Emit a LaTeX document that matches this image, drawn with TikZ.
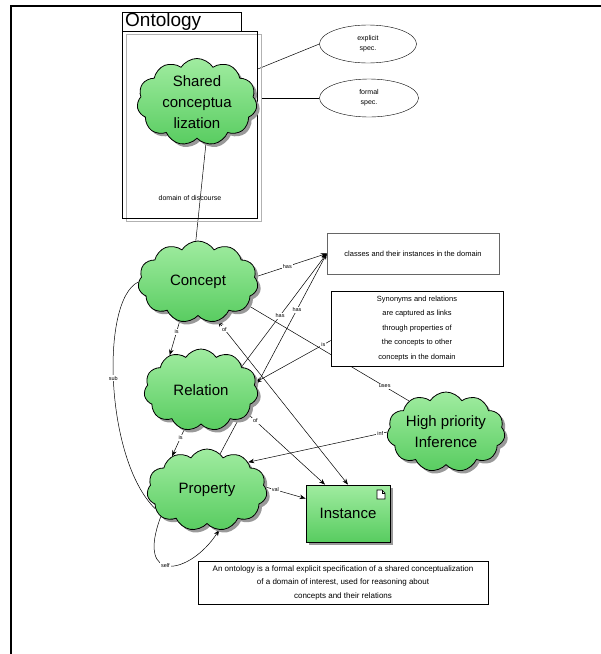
\documentclass[tikz,border=0pt]{standalone}
\usepackage{fontspec}
\setmainfont{Liberation Sans}
\usetikzlibrary{shapes.symbols,shapes.geometric,shadows,arrows.meta,calc}
\pgfdeclarelayer{background}
\pgfdeclarelayer{bottom}
\pgfsetlayers{bottom,background,main}
\definecolor{gtop}{RGB}{160,236,160}
\definecolor{gbot}{RGB}{88,204,96}
\tikzset{
  shd/.style={general shadow={shadow xshift=3pt, shadow yshift=-3pt, fill=black!40}},
  cl/.style={cloud, cloud puffs=11, cloud puff arc=115, cloud ignores aspect, draw=black, thick,
    top color=gtop, bottom color=gbot, inner sep=0pt, align=center,
    font=\fontsize{15}{21}\selectfont, shd},
  txtbox/.style={draw=black, fill=white, align=center, inner sep=0pt, font=\fontsize{7.5}{14.5}\selectfont},
  ell/.style={ellipse, draw=black, fill=white, align=center, inner sep=0pt, font=\fontsize{7}{10}\selectfont},
  conn/.style={draw=black, line width=0.5pt},
  arr/.style={conn, -{Stealth[length=6pt,width=4.5pt]}},
  lab/.style={font=\fontsize{5.5}{6}\selectfont, inner sep=1pt, fill=white}
}
\begin{document}
\begin{tikzpicture}[x=1pt,y=-1pt]
\useasboundingbox (0,0) rectangle (601,654);
\begin{pgfonlayer}{bottom}
\fill[white] (0,0) rectangle (601,654);
\end{pgfonlayer}
% outer frame
\draw[line width=1.2pt] (11,654) -- (11,6) -- (601,6);
% Ontology package
\draw[black!30, line width=1pt] (126,34) rectangle (261,221);
\node[draw=black, thick, fill=white, minimum width=119pt, minimum height=19pt, inner sep=0pt,
  anchor=north west] (tab) at (122,12) {};
\node[anchor=west, inner sep=0pt, font=\fontsize{19}{19}\selectfont] (ontl) at (125,22) {Ontology};
\node[draw=black, thick, minimum width=135pt, minimum height=187pt, inner sep=0pt,
  anchor=north west] (ont) at (122,31) {};
\node[font=\fontsize{7}{8}\selectfont] (dod) at (190,198) {domain of discourse};
\node[cl, minimum width=120pt, minimum height=86pt] (shared) at (197,102) {Shared\\conceptua\\lization};
% ellipses
\node[ell, minimum width=97pt, minimum height=38pt] (e1) at (368,44) {explicit\\spec.};
\node[ell, minimum width=99pt, minimum height=38pt] (e2) at (369,98) {formal\\spec.};
% clouds
\node[cl, minimum width=120pt, minimum height=82pt] (concept) at (198,282) {Concept};
\node[cl, minimum width=114pt, minimum height=82pt] (relation) at (201,390) {Relation};
\node[cl, minimum width=120pt, minimum height=82pt] (property) at (207,490) {Property};
\node[cl, minimum width=118pt, minimum height=80pt] (hpi) at (446,432) {High priority\\Inference};
% instance
\node[draw=black, thick, top color=gtop, bottom color=gbot, minimum width=84pt, minimum height=57pt,
  inner sep=0pt, font=\fontsize{15}{16}\selectfont, shd] (instance) at (348,513.5) {Instance};
\draw[black, fill=white, line width=0.6pt] (377,490) -- (382,490) -- (385,493) -- (385,499) -- (377,499) -- cycle;
\draw[black, line width=0.6pt] (382,490) -- (382,493) -- (385,493);
% text boxes
\node[txtbox, draw=black!60, minimum width=172pt, minimum height=41pt] (box1) at (413,253.5) {classes and their instances in the domain};
\node[txtbox, minimum width=172pt, minimum height=75pt] (box2) at (417,328.5)
  {Synonyms and relations\\are captured as links\\through properties of\\the concepts to other\\concepts in the domain};
\node[txtbox, minimum width=290pt, minimum height=43pt, font=\fontsize{8}{13.5}\selectfont] (box3) at (343,582.5)
  {An ontology is a formal explicit specification of a shared conceptualization\\of a domain of interest, used for reasoning about\\concepts and their relations};
% connectors
\begin{pgfonlayer}{background}
\draw[conn] (ont.east |- 0,69) -- (e1.west);
\draw[conn] (261,98) -- (e2.west);
\draw[conn] (shared.-78) -- (concept.93);
\draw[arr] (concept.5) -- (box1.west) node[lab, pos=0.45] {has};
\draw[arr] (relation.30) -- (box1.west) node[lab, pos=0.45] {has};
\draw[arr] (property.70) -- (box1.west) node[lab, pos=0.72] {has};
\draw[arr] ([yshift=-12pt]box2.west) -- (relation.8) node[lab, pos=0.1] {is};
\draw[conn] (concept.-25) -- (hpi.140) node[lab, pos=0.85] {uses};
\draw[arr] (hpi.180) -- (property.34) node[lab, pos=0.05] {inf};
\draw[arr] (concept.-115) -- (relation.132) node[lab, pos=0.3] {is};
\draw[arr] (relation.-113) -- (property.136) node[lab, pos=0.3] {is};
\draw[arr] (relation.-27) -- ([xshift=-23pt]instance.north) node[lab, pos=0.1] {of};
\draw[{Stealth[length=6pt,width=4.5pt]}-{Stealth[length=6pt,width=4.5pt]}, conn] (concept.-63) -- (instance.north) node[lab, pos=0.05] {of};
\draw[arr] (property.3) -- ([yshift=15pt]instance.west) node[lab, pos=0.25] {val};
\draw[conn] (concept.180) .. controls (100,300) and (105,460) .. (property.-160) node[lab, pos=0.48] {sub};
\draw[arr] (property.-150) .. controls (135,585) and (190,575) .. (property.-73) node[lab, pos=0.45] {self};
\end{pgfonlayer}
\end{tikzpicture}
\end{document}
